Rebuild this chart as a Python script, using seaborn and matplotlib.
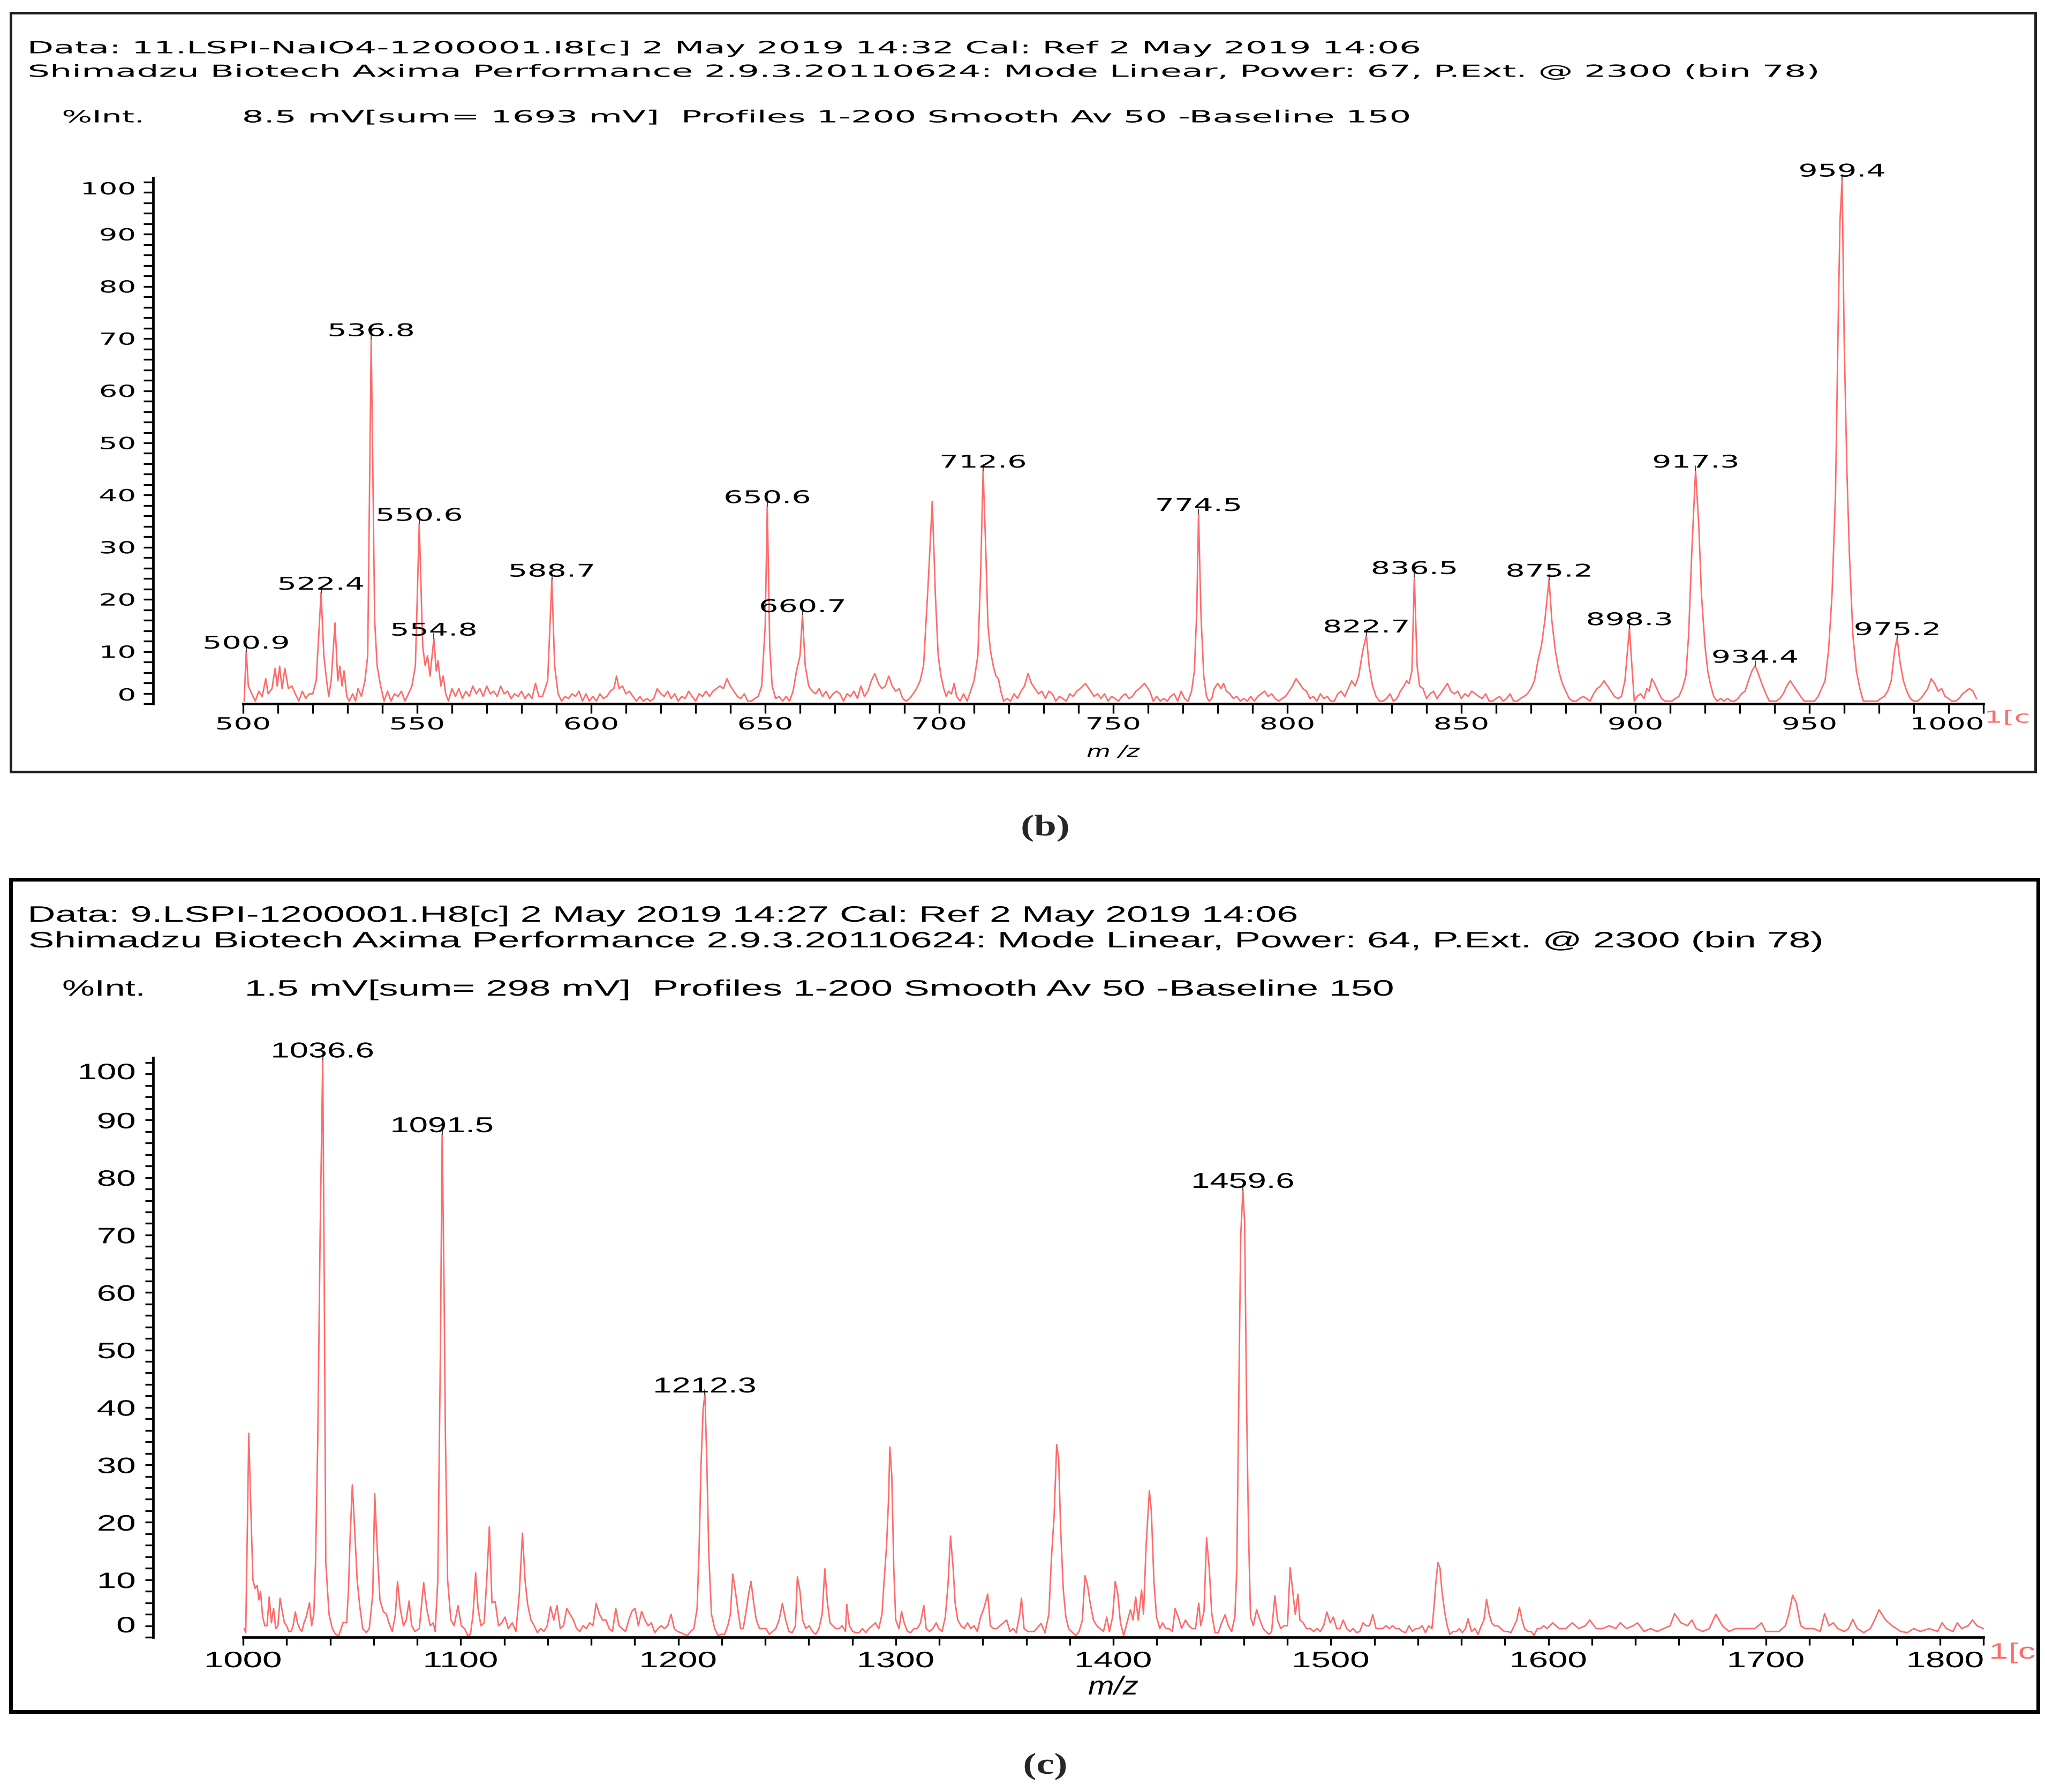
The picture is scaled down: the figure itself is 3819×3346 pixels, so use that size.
import numpy as np
import pandas as pd
import matplotlib
matplotlib.use("Agg")
import matplotlib.pyplot as plt
import seaborn as sns
from matplotlib.patches import Rectangle
from matplotlib.ticker import FixedLocator, MultipleLocator
from matplotlib.patheffects import AbstractPathEffect
from matplotlib.transforms import Affine2D
from matplotlib.path import Path

# ---------------- data: panel (b) ----------------
b_mz = [
    500.3, 500.9, 501.5, 502.5, 503.5, 504.5, 505.5, 506.5, 507.2, 508.3,
    509.2, 509.8, 510.5, 511.2, 512, 513, 514, 515, 516, 517,
    518, 519, 520, 521, 522.4, 523.2, 524, 524.6, 525.3, 526.4,
    527.2, 527.8, 528.4, 529, 529.8, 530.5, 531.5, 532.3, 533, 534,
    535, 535.8, 536.8, 537.8, 538.5, 539.5, 540.5, 541.5, 542.5, 543.5,
    544.5, 545.5, 546.5, 547.5, 548.5, 549.5, 550.6, 551.6, 552.3, 553,
    553.7, 554.8, 555.5, 556, 556.8, 557.5, 558.2, 559, 560, 561,
    562, 563, 564, 565, 566, 567, 568, 569, 570, 571,
    572, 573, 574, 575, 576, 577, 578, 579, 580, 581,
    582, 583, 584, 585, 586, 587.5, 588.7, 589.5, 590.5, 591.5,
    592.5, 593.5, 594.5, 595.5, 596.5, 597.5, 598.5, 599.5, 600.5, 601.5,
    602.5, 603.5, 604.5, 605.5, 606.5, 607.3, 608, 609, 610, 611,
    612, 613, 614, 615, 616, 617, 618, 619, 620, 621,
    622, 623, 624, 625, 626, 627, 628, 629, 630, 631,
    632, 633, 634, 635, 636, 637, 638, 639, 640, 641,
    642, 643, 644, 645, 646, 647, 648, 649, 650, 650.6,
    651.3, 652, 653, 654, 655, 656, 657, 658, 659, 660,
    660.7, 661.5, 662.5, 663.5, 664.5, 665.5, 666.5, 667.5, 668.5, 669.5,
    670.5, 671.5, 672.5, 673.5, 674.5, 675.5, 676.5, 677.5, 678.5, 679.5,
    680.5, 681.5, 682.5, 683.5, 684.5, 685.5, 686.5, 687.5, 688.5, 689.5,
    690.5, 691.5, 692.5, 693.5, 694.5, 695.5, 696.8, 698, 698.9, 699.7,
    700.5, 701.3, 702, 702.7, 703.5, 704.3, 705, 706, 707, 708,
    709, 710, 711.1, 711.9, 712.6, 713.3, 714, 714.7, 715.5, 716.3,
    717, 717.7, 718.5, 719.5, 720.5, 721.5, 722.5, 723.5, 724.5, 725.5,
    726.5, 727.5, 728.5, 729.5, 730.5, 731.5, 732.5, 733.5, 734.5, 735.5,
    736.5, 737.5, 738.5, 739.5, 740.5, 742, 743.5, 744.5, 745.5, 746.5,
    747.5, 748.5, 749.5, 750.5, 751.5, 752.5, 753.5, 754.5, 755.5, 756.5,
    757.5, 759, 760.5, 761.5, 762.5, 763.5, 764.5, 765.5, 766.5, 767.5,
    768.5, 769.5, 770.5, 771.5, 772.5, 773.3, 774, 774.5, 775.2, 776,
    776.8, 777.5, 778.3, 779, 780, 781, 781.7, 782.5, 783.5, 784.5,
    785.5, 786.5, 787.5, 788.5, 789.5, 790.5, 791.5, 792.5, 793.5, 794.5,
    795.5, 796.5, 797.5, 798.5, 799.5, 800.5, 801.5, 802.5, 803.5, 804.5,
    805.5, 806.5, 807.5, 808.5, 809.5, 810.5, 811.5, 812.5, 813.5, 814.5,
    815.5, 816.5, 817.5, 818.5, 819.5, 820.5, 821.7, 822.7, 823.5, 824.5,
    825.5, 826.5, 827.5, 828.5, 829.5, 830.5, 831.5, 832.5, 833.5, 834.3,
    835, 835.8, 836.5, 837.3, 838, 839, 840, 841, 842, 843,
    844, 845, 846, 847, 848, 849, 850, 851, 852, 853,
    854, 855, 856, 857, 858, 859, 860, 861, 862, 863,
    864, 865, 866, 867, 868, 869, 870, 871, 872, 873,
    874, 875.2, 876, 877, 878, 879, 880, 881, 882, 883,
    884, 885, 886, 887, 888, 889, 890, 891, 892, 893,
    894, 895, 896, 897, 898.3, 899, 899.7, 900.5, 901.5, 902.5,
    903.3, 904, 904.7, 905.5, 906.5, 907.5, 908.5, 909.5, 910.5, 911.5,
    912.5, 913.5, 914.5, 915.3, 916.3, 917.3, 918.2, 919, 920, 920.8,
    921.5, 922.5, 923.5, 924.5, 925.5, 926.5, 927.5, 928.5, 929.5, 930.5,
    931.5, 932.5, 933.5, 934.4, 935.3, 936.3, 937.5, 938.5, 939.5, 940.5,
    941.5, 942.5, 943.5, 944.5, 945.5, 946.5, 947.5, 948.5, 949.5, 950.5,
    951.5, 952.5, 953.5, 954.5, 955.5, 956.5, 957.5, 958.3, 958.8, 959.4,
    960, 960.8, 961.5, 962.5, 963.5, 964.5, 965.5, 966.5, 967.5, 968.5,
    969.5, 970.5, 971.5, 972.5, 973.5, 974.5, 975.2, 976, 977, 978,
    979, 980, 981, 982, 983, 984, 985, 986, 987, 988,
    989, 990, 991, 992, 993, 994, 995, 996, 997, 998,
]
b_int = [
    0.5, 10, 3.4, 1.9, 0.5, 2.4, 1.4, 4.8, 1.9, 2.9,
    6.8, 3.4, 7.2, 2.9, 6.8, 2.9, 3.4, 1.9, 0.5, 2.4,
    1, 1.9, 1.9, 4.4, 21.3, 9.2, 4.4, 1.4, 4.4, 15.5,
    4.4, 7.2, 3.4, 6.3, 1.4, 0.5, 1.9, 0.5, 2.9, 1.4,
    4.4, 9.2, 69.9, 16, 7.3, 3.4, 0.5, 2.4, 0.5, 1.9,
    1.4, 2.4, 0.5, 1.9, 3.4, 7.3, 34.5, 11.1, 7.3, 9.2,
    5.3, 12.5, 6.3, 8.2, 3.4, 5.3, 1.9, 0.5, 2.9, 1.4,
    2.9, 1, 2.4, 1.4, 3.4, 1.9, 2.9, 1.4, 3.4, 1.9,
    2.4, 1.4, 3.4, 1.9, 2.4, 1, 1.9, 1.4, 2.4, 1,
    1.9, 1, 3.9, 1.4, 1.4, 4.4, 23.8, 7.3, 1.9, 0.5,
    1.4, 1, 1.9, 1.4, 2.4, 0.5, 1.9, 0.5, 1.4, 0.5,
    1.9, 1, 1.4, 2.4, 2.9, 5.3, 2.9, 3.4, 1.9, 2.4,
    1.4, 0.5, 1.4, 0.5, 1, 0.5, 1, 2.9, 1.9, 1.4,
    2.4, 1, 1.9, 0.5, 1.4, 1, 2.4, 1.4, 0.5, 1.9,
    1.4, 2.4, 1.4, 2.4, 2.9, 3.4, 2.9, 4.8, 3.4, 2.4,
    1.4, 1, 1.9, 0.5, 0.5, 1, 1.4, 3.4, 15, 37.9,
    11.1, 3.4, 1, 1.4, 0.5, 1.4, 0.5, 2.4, 6.3, 9.2,
    17, 7.3, 3.4, 2.4, 1.9, 2.9, 1.4, 2.4, 1, 1.9,
    2.4, 1.9, 0.5, 1.9, 1.4, 2.4, 1, 3.4, 1.4, 2.4,
    4.4, 5.8, 3.9, 2.9, 3.4, 5.3, 3.4, 2.4, 2.9, 1,
    0.5, 1, 1.9, 2.9, 4.4, 7.3, 22.8, 38.8, 20.8, 9.2,
    5.3, 2.9, 1.4, 2.4, 1.9, 3.9, 1.4, 0.5, 1.9, 0.5,
    2.4, 4.4, 9.2, 25, 44.7, 31, 15, 10.2, 7.3, 5.3,
    4.8, 2.4, 0.5, 1, 0.5, 1.9, 1, 2.4, 3.4, 5.8,
    3.9, 2.9, 1.9, 2.4, 1, 2.4, 1.9, 0.5, 1.4, 1,
    0.5, 1.9, 1.4, 2.4, 2.9, 3.9, 2.4, 1.4, 1.9, 1,
    1.9, 0.5, 1.4, 1, 0.5, 1.4, 1.9, 1, 1.4, 2.4,
    2.9, 3.9, 2.4, 0.5, 1.4, 0.5, 1, 0.5, 1.4, 1.9,
    0.5, 2.4, 1, 0.5, 2.4, 6.3, 18, 36.4, 17, 5.3,
    1.4, 0.5, 1, 2.9, 3.9, 2.9, 3.9, 2.4, 1.9, 1,
    1.4, 0.5, 1, 0.5, 1.4, 0.5, 1.4, 1.9, 2.4, 1.4,
    1.9, 1, 0.5, 1, 1.4, 2.4, 3.4, 4.8, 3.9, 2.9,
    2.4, 1, 1.4, 0.5, 1.9, 1, 1.4, 0.5, 0.5, 1.9,
    2.4, 1.4, 2.9, 4.4, 3.4, 5.3, 10.2, 13.1, 7.3, 3.4,
    1.4, 0.5, 0.5, 1, 1.9, 0.5, 1, 2.4, 3.4, 4.4,
    3.9, 6.3, 24.3, 7.3, 3.4, 2.9, 1, 1.9, 2.4, 1,
    1.9, 2.9, 3.9, 2.4, 1.9, 2.4, 1, 1.9, 1.4, 2.4,
    1.9, 1.4, 1, 1.9, 0.5, 0.5, 1, 1.4, 0.5, 1,
    1.9, 0.5, 0.5, 1, 1.4, 1.9, 2.9, 4.4, 8.2, 11.1,
    16, 23.8, 16, 10.2, 6.3, 3.9, 2.4, 1, 0.5, 0.5,
    1, 1.4, 1, 0.5, 1.9, 2.9, 3.4, 4.4, 3.4, 2.4,
    1.4, 1, 1.4, 4.4, 14.5, 7.3, 0.5, 1.4, 1.9, 1,
    2.9, 2.4, 4.8, 3.9, 2.4, 1, 0.5, 0.5, 0.5, 1,
    1.4, 2.9, 5.3, 13.1, 30.6, 44.7, 34.5, 20.8, 11.1, 6.3,
    3.9, 1.4, 0.5, 1, 0.5, 1, 0.5, 0.5, 1, 1.9,
    2.4, 4.4, 6.3, 7.3, 5.8, 3.9, 1.9, 0.5, 0.5, 0.5,
    1, 1.9, 3.4, 4.4, 3.4, 2.4, 1.4, 0.5, 0.5, 0.5,
    0.5, 1.4, 2.9, 4.4, 10.2, 20.8, 40.3, 74.3, 92.7, 100.5,
    69.4, 44.2, 28.6, 13.1, 6.3, 2.9, 0.5, 0.5, 0.5, 0.5,
    0.5, 1, 1.4, 2.4, 4.4, 10.2, 12.6, 8.2, 4.4, 2.4,
    1, 0.5, 0.5, 1, 1.9, 2.9, 4.8, 3.9, 2.4, 2.9,
    1.4, 1, 0.5, 0.5, 1, 1.9, 2.4, 2.9, 2.4, 1,
]
b_labels = [500.9, 522.4, 536.8, 550.6, 554.8, 588.7, 650.6, 660.7, 712.6,
            774.5, 822.7, 836.5, 875.2, 898.3, 917.3, 934.4, 959.4, 975.2]
b_xticks = [500, 550, 600, 650, 700, 750, 800, 850, 900, 950, 1000]
b_header = [
    "Data: 11.LSPI-NaIO4-1200001.I8[c] 2 May 2019 14:32 Cal: Ref 2 May 2019 14:06",
    "Shimadzu Biotech Axima Performance 2.9.3.20110624: Mode Linear, Power: 67, P.Ext. @ 2300 (bin 78)",
    "%Int.",
    "8.5 mV[sum= 1693 mV]  Profiles 1-200 Smooth Av 50 -Baseline 150",
]

# ---------------- data: panel (c) ----------------
c_mz = [
    1000.5, 1001.2, 1002, 1002.6, 1003.5, 1004.5, 1005.5, 1006.5, 1007.2, 1008,
    1009, 1010, 1011, 1012, 1013, 1014, 1015, 1016, 1017, 1018,
    1019, 1020, 1021, 1022, 1023, 1024, 1025, 1026, 1027, 1028,
    1029, 1030.5, 1031.5, 1032.5, 1033.3, 1034.3, 1035.4, 1036.6, 1037.3, 1038,
    1039.5, 1041, 1042.5, 1044, 1046, 1047.6, 1048.4, 1049.2, 1050.2, 1051,
    1052.4, 1053.6, 1055, 1056.6, 1058, 1059.6, 1060.5, 1061.7, 1062.9, 1064.4,
    1065.9, 1067, 1068.6, 1070, 1071, 1072.2, 1073.7, 1075, 1076.3, 1077.5,
    1079, 1081, 1083, 1084.4, 1086, 1087.4, 1088.3, 1089.5, 1090.7, 1091.5,
    1092.4, 1093, 1094, 1095.5, 1097, 1098.8, 1100.3, 1101.8, 1103.3, 1104.5,
    1105.7, 1106.9, 1108, 1109.3, 1110.8, 1112, 1113.2, 1114.4, 1115.9, 1117.4,
    1118.9, 1120.4, 1121.9, 1123.7, 1125.4, 1127, 1128.4, 1129.6, 1130.8, 1132.3,
    1133.8, 1135.3, 1136.8, 1138.3, 1139.8, 1141.3, 1142.8, 1144.3, 1145.8, 1147.3,
    1148.8, 1150.3, 1151.8, 1153.3, 1154.8, 1156.3, 1157.8, 1159.3, 1160.8, 1162.3,
    1163.8, 1165.3, 1166.8, 1168.3, 1169.8, 1171.3, 1172.8, 1174.3, 1175.8, 1177.3,
    1178.7, 1180.2, 1181.7, 1183.2, 1184.7, 1186.2, 1187.7, 1189.2, 1190.7, 1192.2,
    1193.7, 1195.2, 1196.7, 1198.2, 1199.7, 1201.2, 1202.7, 1204.2, 1205.7, 1207.2,
    1208.7, 1209.6, 1210.5, 1211.5, 1212.3, 1213.2, 1214.1, 1215.3, 1216.8, 1218.3,
    1219.8, 1221.3, 1222.8, 1224, 1225.1, 1226.3, 1227.5, 1228.7, 1229.9, 1231,
    1232.6, 1233.5, 1234.7, 1235.9, 1237.4, 1238.9, 1240.4, 1241.9, 1243.4, 1244.9,
    1246.4, 1247.9, 1249.4, 1250.9, 1252.4, 1253.9, 1254.8, 1256, 1257.2, 1258.7,
    1260.2, 1261.7, 1263.2, 1264.7, 1266.2, 1267.4, 1268.6, 1269.8, 1271, 1272.5,
    1274, 1275.4, 1276.9, 1277.5, 1278.7, 1280.2, 1281.7, 1283.2, 1284.7, 1286.2,
    1287.7, 1289.2, 1290.7, 1292.2, 1293.7, 1294.6, 1295.8, 1296.7, 1297.3, 1298.2,
    1299.1, 1300, 1301.5, 1302.7, 1303.9, 1305.4, 1306.9, 1308.4, 1309.9, 1311.4,
    1312.9, 1314, 1315.5, 1317.1, 1318.6, 1319.8, 1321.3, 1322.8, 1324, 1325.2,
    1326.4, 1327.3, 1328.5, 1330, 1331.5, 1333, 1334.5, 1336, 1337.5, 1339,
    1340.5, 1342.3, 1343.5, 1345, 1346.5, 1348, 1349.5, 1351, 1352.5, 1354,
    1355.4, 1357, 1357.8, 1359, 1360.7, 1363.7, 1366.8, 1368.6, 1370.4, 1371.6,
    1372.8, 1374, 1374.9, 1375.8, 1377, 1378.2, 1379.5, 1381.3, 1382.8, 1384.3,
    1385.8, 1387, 1388.2, 1389.4, 1390.9, 1392.4, 1393.9, 1395.5, 1397, 1398.2,
    1399.7, 1400.9, 1402.1, 1403.3, 1404.8, 1406.3, 1407.9, 1409.1, 1410.3, 1411.5,
    1413, 1413.9, 1415.1, 1416.6, 1417.5, 1418.7, 1419.9, 1421.4, 1422.7, 1424.2,
    1425.7, 1427.2, 1428.4, 1429.9, 1431.4, 1433.2, 1434.7, 1436.3, 1437.8, 1439.3,
    1440.2, 1441.7, 1442.9, 1444.1, 1445.3, 1446.8, 1448.3, 1449.8, 1451.4, 1452.9,
    1454.4, 1455.9, 1456.8, 1457.7, 1458.6, 1459.6, 1460.4, 1461.3, 1462.2, 1463.1,
    1464.4, 1465.9, 1467.4, 1468.9, 1470.1, 1471.6, 1472.8, 1474.3, 1475.5, 1477,
    1478.5, 1480.1, 1481.3, 1482.5, 1483.7, 1484.9, 1485.8, 1487.3, 1488.8, 1490.6,
    1492.1, 1493.7, 1495.2, 1496.7, 1498.2, 1499.7, 1501.2, 1502.7, 1504.2, 1505.7,
    1507.3, 1508.8, 1510.3, 1511.8, 1513.3, 1514.8, 1516.3, 1517.8, 1519.3, 1520.8,
    1522.4, 1523.9, 1525.4, 1526.9, 1528.4, 1529.9, 1531.4, 1532.9, 1534.4, 1536,
    1537.5, 1539, 1540.5, 1542, 1543.5, 1545, 1546.5, 1547.4, 1548.3, 1549.2,
    1550.2, 1551.1, 1552.3, 1553.5, 1554.7, 1556.2, 1557.7, 1559.2, 1560.4, 1561.9,
    1563.1, 1564.7, 1566.2, 1567.7, 1569.2, 1570.4, 1571.6, 1572.8, 1574, 1575.2,
    1576.7, 1578.2, 1579.8, 1581.3, 1582.8, 1584.3, 1585.5, 1586.7, 1587.9, 1589.1,
    1590.6, 1592.1, 1593.4, 1594.9, 1596.4, 1597.9, 1599.4, 1602, 1605, 1608,
    1611, 1614, 1617, 1619, 1622, 1625, 1628, 1631, 1633, 1636,
    1639, 1641, 1644, 1647, 1650, 1653, 1656, 1658, 1661, 1664,
    1666, 1668, 1671, 1674, 1677, 1680, 1683, 1686, 1689, 1692,
    1695, 1698, 1700, 1703, 1706, 1709, 1710.5, 1712.3, 1714, 1716,
    1718, 1720, 1722, 1725, 1727, 1729, 1731, 1733, 1736, 1738,
    1740, 1742, 1745, 1748, 1750, 1752, 1755, 1758, 1762, 1765,
    1768, 1771, 1775, 1779, 1781, 1783, 1786, 1788, 1790, 1793,
    1795, 1797, 1800,
]
c_int = [
    1.5, 0.8, 20, 35.5, 23, 10, 8.5, 9, 6.5, 8,
    3.5, 2, 2, 7, 2.5, 5, 1.5, 2, 6.8, 4.5,
    2.5, 2, 1, 1, 2, 4.4, 2.5, 1.5, 1, 2.5,
    3.5, 6, 2, 4, 13, 34, 70, 100.5, 62, 13,
    4, 1.5, 0.5, 0.3, 2.6, 2.5, 8, 17.4, 26.5, 21,
    10, 5.5, 1.5, 0.8, 1.5, 7.5, 25, 15, 6.5, 4.5,
    4, 2.5, 1, 4, 9.7, 5, 2, 3, 6.3, 2,
    1, 1.5, 9.5, 5, 2, 2.5, 1, 10, 50, 87.5,
    60, 35, 10, 3, 2, 5.5, 2, 1.5, 0.3, 0.5,
    4, 11.2, 5, 2, 2.5, 10, 19.2, 6, 6.2, 2,
    2.5, 3.5, 1.5, 2.5, 1, 7.7, 18.1, 10, 5.7, 3,
    2, 0.8, 1.5, 1, 2, 5.3, 3, 5.5, 1.5, 2,
    5, 4, 3, 1.5, 1, 2, 1.5, 2.5, 2, 5.9,
    4, 3, 3, 1.5, 1, 5, 2, 1.5, 1, 3,
    4.5, 5, 2, 4.5, 3, 2, 2.5, 0.8, 1.5, 2,
    1.5, 2, 4, 1.5, 1, 0.8, 0.5, 0.3, 1, 1.5,
    5, 15, 30, 40, 42.2, 30, 14, 4, 1.5, 0.3,
    0.5, 0.5, 2, 4, 11, 8, 4.5, 1.5, 1.5, 4,
    8, 9.7, 6, 3, 1.5, 1.5, 1.5, 0.5, 1, 1.5,
    3, 5.9, 3, 1, 0.8, 2, 10.5, 8, 3, 1.5,
    2, 1, 0.5, 1.5, 4, 11.9, 6, 2.5, 2, 1.5,
    1.5, 2, 1, 5.7, 2, 1, 0.8, 0.8, 1.5, 0.8,
    1.5, 2, 2.5, 1.5, 4, 9.5, 16, 24, 33.1, 28,
    12, 3, 1.5, 4.5, 2.5, 1, 0.8, 1.5, 1.5, 2.5,
    5.5, 1.5, 1, 1.5, 2.5, 1.5, 1, 3.5, 9, 17.6,
    12, 6, 3, 2, 1.5, 2.5, 1.5, 2, 1, 3.5,
    5, 7.5, 2, 1.5, 1.5, 2, 2.5, 3, 1, 1.5,
    0.8, 4, 6.8, 1.5, 1, 1, 2.4, 0.8, 4, 13.9,
    21, 33.5, 31, 19, 8.4, 3.5, 1.5, 0.8, 0.3, 1,
    3, 10.7, 9, 5.9, 3, 2, 1.5, 1, 3.5, 1,
    3.5, 9.7, 7.5, 2.5, 0.3, 2.5, 4.8, 3, 7, 3,
    8.2, 4, 15.9, 25.5, 22, 9.7, 3.5, 1.5, 2.5, 1.5,
    1.5, 1, 5, 3.5, 1.5, 3, 2, 1.5, 1.5, 5.9,
    2, 4.5, 17.3, 12, 4, 0.8, 0.8, 2.5, 3.9, 2,
    1, 3.5, 12, 42, 70, 77.8, 72, 40, 18, 3.5,
    2, 4.8, 3, 1.5, 1, 0.5, 1, 7.2, 3, 1.5,
    2, 2, 12.1, 8, 4, 7.5, 3, 2.5, 1.5, 1.5,
    1, 1.5, 1, 2, 4.4, 2.5, 3.5, 1.5, 1.5, 3,
    1.5, 1, 1.5, 0.8, 1, 2.5, 2, 2, 3.9, 1.5,
    1.5, 1.5, 2, 1.5, 2, 1.5, 1.5, 1, 0.8, 2,
    1, 1.5, 1.5, 2, 0.8, 2, 1.5, 5, 9.5, 13,
    12, 8, 4.5, 2, 0.5, 1, 1, 1.5, 0.8, 1.5,
    3.2, 1, 1.5, 0.5, 2, 3, 6.6, 4, 2.5, 2,
    2, 1.5, 1, 1, 0.8, 2, 3, 5.2, 3, 1.5,
    1, 1, 0.3, 1.5, 1.5, 2, 1.5, 2.5, 1.5, 1.5,
    2.5, 1.5, 2, 3, 1.5, 1.5, 2, 1.5, 2.5, 1.5,
    2, 2.5, 1, 1.5, 1, 1.5, 2, 4.1, 2.5, 2,
    3, 1.5, 1, 1.5, 4, 2, 1, 1.5, 1.5, 1.5,
    1.5, 2.5, 1, 1, 1, 2, 4, 7.3, 6, 2,
    1.5, 1.5, 1.5, 1, 4.1, 2, 2.5, 1.5, 1, 1.5,
    3.1, 1.5, 0.8, 1.5, 3, 4.8, 3, 2, 1, 0.8,
    1.5, 1, 1.5, 1, 2.5, 1.5, 1, 2.5, 1.5, 2,
    3, 2, 1.5,
]
c_labels = [1036.6, 1091.5, 1212.3, 1459.6]
c_xticks = [1000, 1100, 1200, 1300, 1400, 1500, 1600, 1700, 1800]
c_header = [
    "Data: 9.LSPI-1200001.H8[c] 2 May 2019 14:27 Cal: Ref 2 May 2019 14:06",
    "Shimadzu Biotech Axima Performance 2.9.3.20110624: Mode Linear, Power: 64, P.Ext. @ 2300 (bin 78)",
    "%Int.",
    "1.5 mV[sum= 298 mV]  Profiles 1-200 Smooth Av 50 -Baseline 150",
]
y_ticks = [0, 10, 20, 30, 40, 50, 60, 70, 80, 90, 100]
panel_names = ["(b)", "(c)"]

# ---------------- styling ----------------
sns.set_theme(style="white")
plt.rcParams['font.family'] = ['DejaVu Sans']
TRACE = "#ff6b6b"
FONT_B = ["DejaVu Sans"]
FONT_C = ["Liberation Sans", "DejaVu Sans"]

W, H = 3819, 3346
fig = plt.figure(figsize=(W / 100, H / 100), dpi=100)
fig.patch.set_facecolor("white")


class HStretch(AbstractPathEffect):
    """Widen rendered glyphs horizontally (the source screenshot is stretched)."""

    def __init__(self, sx, anchor="center"):
        super().__init__()
        self.sx = sx
        self.anchor = anchor

    def draw_path(self, renderer, gc, tpath, affine, rgbFace=None):
        verts = tpath.vertices
        if tpath.codes is not None:
            keep = (tpath.codes != Path.CLOSEPOLY) & (tpath.codes != Path.STOP)
            verts = verts[keep]
        if len(verts) == 0:
            renderer.draw_path(gc, tpath, affine, rgbFace)
            return
        xs = affine.transform(verts)[:, 0]
        if self.anchor == "left":
            x0 = xs.min()
        elif self.anchor == "right":
            x0 = xs.max()
        else:
            x0 = 0.5 * (xs.min() + xs.max())
        t = affine + Affine2D().translate(-x0, 0).scale(self.sx, 1.0).translate(x0, 0)
        renderer.draw_path(gc, tpath, t, rgbFace)


def fx(px):
    return px / W


def fy(py):
    return 1 - py / H


def build_panel(rect, mz, inten, labels, xticks, xminor, fam, tick_fs, sx,
                lab_fs, lab_off, xlabel, xlabel_fs, xlabel_sx, xlabel_y, tick_len):
    ax = fig.add_axes(rect)
    df = pd.DataFrame({"mz": mz, "intensity": inten})
    sns.lineplot(data=df, x="mz", y="intensity", ax=ax, color=TRACE,
                 linewidth=2.0, estimator=None, sort=False, errorbar=None)
    for ln in ax.lines:
        ln.set_clip_on(False)
    ax.set_xlim(xticks[0], xticks[-1])
    ax.set_ylim(0, 100)
    ax.set_facecolor("none")
    for s in ["top", "right"]:
        ax.spines[s].set_visible(False)
    ax.spines["left"].set_position(("outward", 121))
    ax.spines["left"].set_bounds(0, 100.8)
    ax.spines["bottom"].set_bounds(xticks[0], xticks[-1])
    for s in ["left", "bottom"]:
        ax.spines[s].set_color("black")
        ax.spines[s].set_linewidth(3.4)
    ax.xaxis.set_major_locator(FixedLocator(xticks))
    ax.xaxis.set_minor_locator(MultipleLocator(xminor))
    ax.yaxis.set_major_locator(FixedLocator(y_ticks))
    ax.yaxis.set_minor_locator(MultipleLocator(2))
    ax.set_xticklabels([str(t) for t in xticks])
    ax.set_yticklabels([str(t) for t in y_ticks])
    ax.tick_params(axis="both", which="both", bottom=True, left=True,
                   top=False, right=False, direction="out", color="black")
    ax.tick_params(axis="both", which="major", length=tick_len, width=2.4,
                   labelsize=tick_fs, labelcolor="black")
    ax.tick_params(axis="both", which="minor", length=tick_len, width=2.4)
    ax.tick_params(axis="x", which="major", pad=18 - tick_len)
    ax.tick_params(axis="y", which="major", pad=24 - tick_len)
    for tk in ax.xaxis.get_major_ticks():
        tk.label1.set_fontfamily(fam)
        tk.label1.set_path_effects([HStretch(sx, "center")])
    xt = ax.xaxis.get_major_ticks()
    xt[-1].label1.set_ha("right")
    xt[-1].label1.set_path_effects([HStretch(sx, "right")])
    for tk in ax.yaxis.get_major_ticks():
        tk.label1.set_fontfamily(fam)
        tk.label1.set_path_effects([HStretch(sx, "right")])
    yt = ax.yaxis.get_major_ticks()
    yt[0].label1.set_va("bottom")
    yt[-1].label1.set_va("top")
    ax.set_xlabel(xlabel, fontsize=xlabel_fs, style="italic", color="black",
                  family=fam)
    ax.xaxis.set_label_coords(0.5, xlabel_y)
    ax.xaxis.label.set_va("center")
    ax.xaxis.label.set_path_effects([HStretch(xlabel_sx, "center")])
    ax.set_ylabel("")
    mz_arr = np.asarray(mz)
    in_arr = np.asarray(inten)
    for m in labels:
        h = in_arr[np.argmin(np.abs(mz_arr - m))]
        ax.plot([m, m], [h, h + 0.9], color="#333333", lw=1.3, clip_on=False)
        ax.annotate(f"{m:.1f}", xy=(m, h), xytext=(0, lab_off),
                    textcoords="offset points", ha="center", va="baseline",
                    fontsize=lab_fs, color="black", family=fam,
                    annotation_clip=False,
                    path_effects=[HStretch(sx, "center")])
    return ax


ax_b = build_panel([fx(454), 1 - 1314 / H, fx(3704 - 454), (1314 - 340) / H],
                   b_mz, b_int, b_labels, b_xticks, 10, FONT_B, 22.5, 1.75,
                   23.5, 4, "m /z", 22, 1.5, -0.093, 13)
ax_c = build_panel([fx(454), 1 - 3057 / H, fx(3704 - 454), (3057 - 1984) / H],
                   c_mz, c_int, c_labels, c_xticks, 20, FONT_C, 30, 1.57,
                   29, 3, "m/z", 35, 1.2, -0.088, 11)

# frames
frame_b = Rectangle((fx(20), fy(1441)), fx(3801 - 20), (1441 - 24) / H,
                    transform=fig.transFigure, fill=False, ec="#1e1e1e", lw=3.5)
frame_c = Rectangle((fx(20), fy(3196)), fx(3806 - 20), (3196 - 1642) / H,
                    transform=fig.transFigure, fill=False, ec="black", lw=5)
fig.add_artist(frame_b)
fig.add_artist(frame_c)

# headers (x, y of left anchor, target rendered width in px)
b_head_pos = [(54, 91, 2604), (54, 135, 3347), (117, 220, 155), (454, 220, 2182)]
c_head_pos = [(54, 1710, 2372), (54, 1758, 3350), (117, 1848, 155), (459, 1848, 2145)]
head_texts = []
for txt, (x, y, w) in zip(b_header, b_head_pos):
    t = fig.text(fx(x), fy(y), txt, ha="left", va="center", fontsize=22.5,
                 family=FONT_B, color="black")
    head_texts.append((t, w))
for txt, (x, y, w) in zip(c_header, c_head_pos):
    t = fig.text(fx(x), fy(y), txt, ha="left", va="center", fontsize=30,
                 family=FONT_C, color="black")
    head_texts.append((t, w))

fig.canvas.draw()
renderer = fig.canvas.get_renderer()
for t, w in head_texts:
    natural = t.get_window_extent(renderer).width
    t.set_path_effects([HStretch(w / natural, "left")])

# "1[c" markers at the axis ends, clipped by the frames
t1 = fig.text(fx(3708), fy(1341), "1[c", ha="left", va="center", fontsize=22.5,
              color=TRACE, family=FONT_B, path_effects=[HStretch(1.75, "left")])
t1.set_clip_path(frame_b)
t2 = fig.text(fx(3716), fy(3086), "1[c", ha="left", va="center", fontsize=30,
              color=TRACE, family=FONT_C, path_effects=[HStretch(1.57, "left")])
t2.set_clip_path(frame_c)

# panel letters
for name, yy in zip(panel_names, [1546, 3298]):
    fig.text(fx(1952), fy(yy), name, ha="center", va="center", fontsize=40,
             fontweight="bold", family=["Liberation Serif", "DejaVu Serif"],
             path_effects=[HStretch(1.35, "center")])

fig.savefig("out.png", dpi=100, facecolor="white")
